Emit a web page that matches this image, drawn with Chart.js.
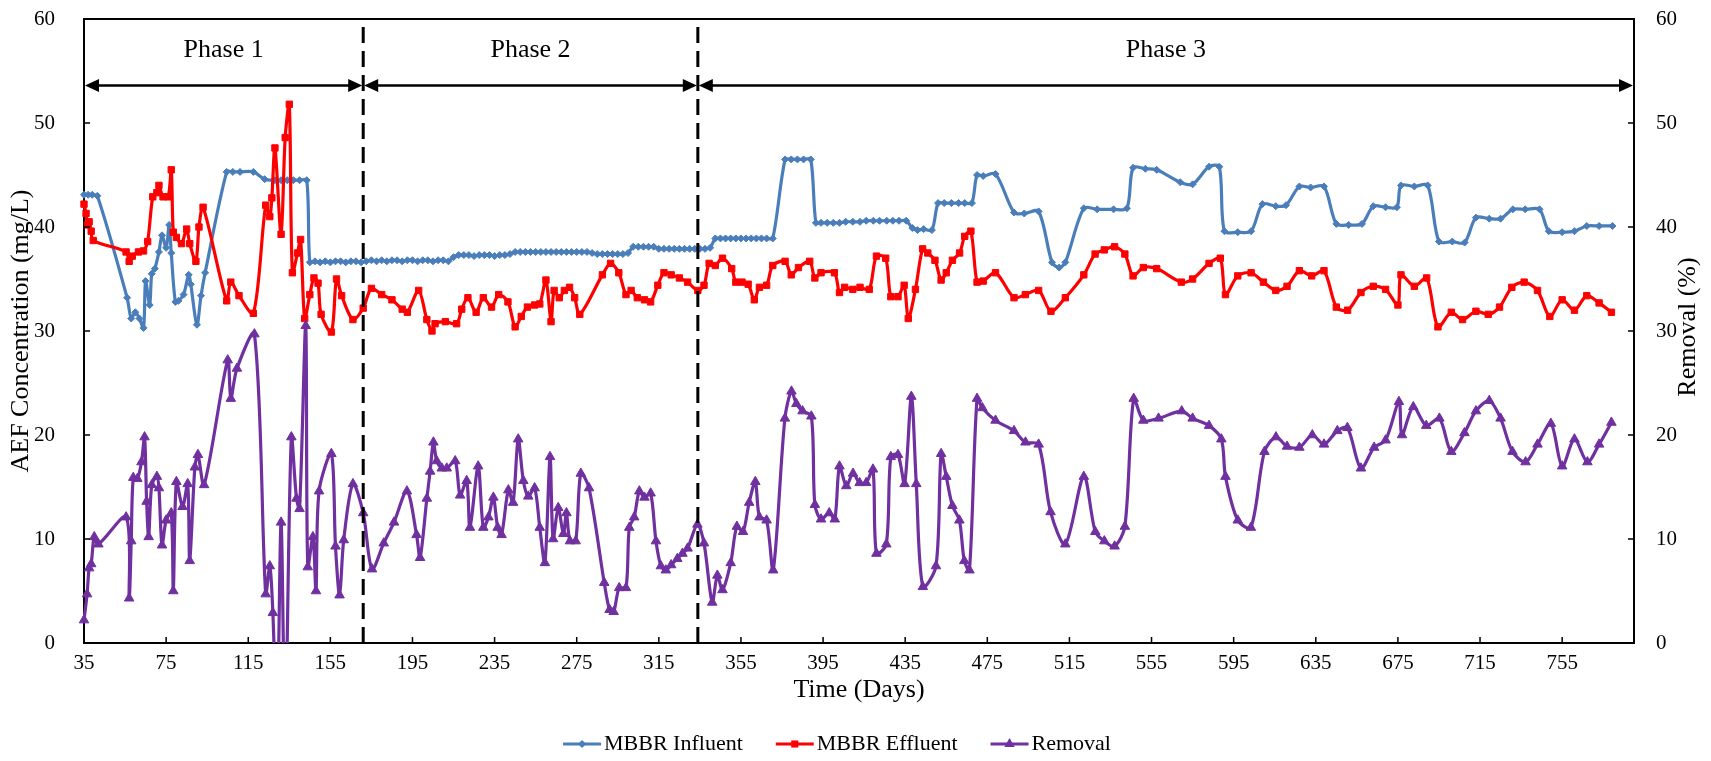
<!DOCTYPE html>
<html lang="en">
<head>
  <meta charset="UTF-8">
  <title>AEF Concentration and Removal - MBBR</title>
  <script src="https://cdn.jsdelivr.net/npm/chart.js"></script>
  <style>
    html, body { margin: 0; padding: 0; background: #fff; }
    #wrap { width: 1711px; height: 761px; }
  </style>
</head>
<body>
  <div id="wrap"><canvas id="aefChart" width="1711" height="761"></canvas></div>

  <script>
    // Axis ticks and phases
    const xTicks = [35, 75, 115, 155, 195, 235, 275, 315, 355, 395, 435, 475, 515, 555, 595, 635, 675, 715, 755];
    const phaseNames = ['Phase 1', 'Phase 2', 'Phase 3'];
    const phaseBounds = [35, 171, 334, 790];
    const seriesNames = ['MBBR Influent', 'MBBR Effluent', 'Removal'];

    // MBBR Influent (mg/L)
    const infDays = [35, 37, 39, 41.5, 56, 58, 60, 62, 64, 65, 67, 68, 69.5, 71.5, 73, 75, 76.5, 77.5, 79.5, 81, 83.5, 86, 87, 90, 92, 94,
      104.5, 107.5, 111, 117.5, 123, 128, 131, 134, 137, 140, 143.5,
      145, 147.5, 150, 152.5, 155, 157.5, 160, 162.5, 165, 167.5, 170, 172.5, 175, 177.5, 180, 182.5, 185, 187.5, 190, 192.5,
      195, 197.5, 200, 202.5, 205, 207.5, 210, 212.5, 215, 217.5, 220, 222.5, 225, 227.5, 230, 232.5, 235, 237.5, 240, 242.5,
      245, 247.5, 250, 252.5, 255, 257.5, 260, 262.5, 265, 267.5, 270, 272.5, 275, 277.5, 280, 282.5, 285, 287.5, 290, 292.5,
      295, 297.5, 300, 302.5, 305, 307.5, 310, 312.5, 315, 317.5, 320, 322.5, 325, 327.5, 330, 332.5, 335, 337.5, 340,
      342.5, 345, 347.5, 350, 352.5, 355, 357.5, 360, 362.5, 365, 367.5, 370.5, 376.5, 379.5, 382.5, 385.5, 389,
      391.5, 394, 397, 400, 403, 406, 409.5, 413, 416, 419.5, 422.5, 426, 429, 432, 435.5, 438.5, 441, 444, 448,
      451, 454, 457.5, 461, 464, 467.5, 470, 473, 479, 488, 493, 500, 506.5, 510, 513, 522, 528.5, 536.5, 543,
      546, 552, 557.5, 569, 575, 583, 588, 590.5, 597, 603.5, 609, 615.5, 620.5, 627, 632.5, 639, 645, 651, 657.5,
      663, 669, 674.5, 676.5, 683, 689.5, 695, 701.5, 707.5, 713, 719.5, 725, 731, 737, 744, 748.5, 755, 761, 767, 773, 779.5];
    const infVals = [43.1, 43.1, 43.1, 43.0, 33.2, 31.2, 31.8, 31.2, 30.3, 34.8, 32.5, 35.5, 36.0, 37.6, 39.2, 38.0, 40.2, 37.5, 32.8, 32.9, 33.5, 35.4, 34.5, 30.6, 33.4, 35.6,
      45.3, 45.3, 45.3, 45.3, 44.6, 44.5, 44.5, 44.5, 44.5, 44.5, 44.5,
      36.6, 36.7, 36.6, 36.7, 36.6, 36.7, 36.7, 36.6, 36.7, 36.7, 36.6, 36.7, 36.8, 36.7, 36.8, 36.7, 36.8, 36.8, 36.7, 36.8,
      36.8, 36.7, 36.8, 36.8, 36.7, 36.8, 36.8, 36.7, 37.1, 37.3, 37.3, 37.3, 37.2, 37.3, 37.3, 37.3, 37.2, 37.3, 37.3, 37.4,
      37.6, 37.6, 37.6, 37.6, 37.6, 37.6, 37.6, 37.6, 37.6, 37.6, 37.6, 37.6, 37.6, 37.6, 37.6, 37.5, 37.4, 37.4, 37.4, 37.4,
      37.4, 37.4, 37.5, 38.1, 38.1, 38.1, 38.1, 38.1, 37.9, 37.9, 37.9, 37.9, 37.9, 37.9, 37.9, 37.9, 37.9, 37.9, 38.0,
      38.9, 38.9, 38.9, 38.9, 38.9, 38.9, 38.9, 38.9, 38.9, 38.9, 38.9, 38.9, 46.5, 46.5, 46.5, 46.5, 46.5,
      40.4, 40.4, 40.4, 40.4, 40.4, 40.5, 40.5, 40.5, 40.6, 40.6, 40.6, 40.6, 40.6, 40.6, 40.6, 39.9, 39.7, 39.8, 39.7,
      42.3, 42.3, 42.3, 42.3, 42.3, 42.3, 45.0, 44.9, 45.1, 41.4, 41.3, 41.5, 36.6, 36.1, 36.6, 41.8, 41.7, 41.7, 41.8,
      45.7, 45.6, 45.5, 44.3, 44.1, 45.8, 45.8, 39.6, 39.5, 39.6, 42.2, 42.0, 42.1, 43.9, 43.8, 43.9, 40.3, 40.2, 40.3,
      42.0, 41.9, 41.9, 44.0, 43.9, 44.0, 38.6, 38.6, 38.5, 40.9, 40.8, 40.8, 41.7, 41.7, 41.7, 39.6, 39.5, 39.6, 40.1, 40.1, 40.1];

    // MBBR Effluent (mg/L)
    const effDays = [35, 36, 36.7, 37.5, 38.5, 39.5, 55.5, 57, 58.5, 61.5, 64, 66, 68.5, 70.5, 71.5, 73.5, 76, 77.5, 78.5, 80, 82.5, 85, 86.5, 89.5, 91, 93,
      104.5, 106.5, 110.5, 117.5, 123.5, 125.5, 126.5, 128, 131, 133, 135, 136.5, 139, 140.5, 142.5, 145, 147, 149, 150.5, 155.5, 158, 160.5, 166,
      171, 175, 180, 185, 190, 192.5, 198, 202, 204.5, 206, 211, 216.5, 219, 222, 226, 229.5, 233.5, 237, 241.5, 245, 248, 251, 254.5, 257,
      260, 262.5, 264, 266.5, 269, 271.5, 274, 276.5, 287.5, 291.5, 295.5, 299, 301.5, 304.5, 308, 311, 314.5, 317.5, 321, 325, 329,
      334, 337, 339.5, 342.5, 346, 350.5, 352.5, 355.5, 358.5, 361.5, 364, 367.5, 370.5, 376.5, 379.5, 383, 388.5, 391, 394, 400.5,
      403, 405.5, 409.5, 413, 417.5, 421, 425.5, 428, 431.5, 434.5, 436.5, 440, 443.5, 446, 449.5, 452.5, 455, 458, 461.5, 464, 467,
      470, 473, 479, 488, 493.5, 500, 506, 513, 522, 527.5, 532, 537, 542, 546, 551, 557.5, 569.5, 575, 583, 588.5, 591, 597, 603.5,
      609.5, 615.5, 621, 627, 633, 639, 645, 650.5, 657, 663, 669, 675, 676.5, 683, 689, 694.5, 701, 706.5, 713, 719, 724.5,
      730.5, 736.5, 743, 749, 755, 761, 767, 773, 779];
    const effVals = [42.2, 41.3, 40.2, 40.5, 39.6, 38.7, 37.6, 36.7, 37.2, 37.6, 37.7, 38.6, 42.9, 43.3, 44.0, 42.9, 42.9, 45.5, 39.5, 39.0, 38.4, 39.8, 38.4, 36.7, 40.0, 41.9,
      32.9, 34.7, 33.4, 31.7, 42.1, 41.0, 42.8, 47.6, 39.3, 48.6, 51.8, 35.6, 37.5, 38.8, 31.2, 33.5, 35.1, 34.6, 31.6, 29.9, 35.0, 33.4, 31.1,
      32.2, 34.1, 33.5, 33.0, 32.1, 31.8, 33.9, 31.1, 30.0, 30.7, 30.9, 30.7, 32.1, 33.2, 31.8, 33.2, 32.3, 33.5, 32.8, 30.4, 31.4, 32.3, 32.5, 32.6,
      34.9, 30.9, 33.9, 33.2, 33.9, 34.2, 33.2, 31.6, 35.4, 36.5, 35.6, 33.5, 33.9, 33.2, 33.0, 32.8, 34.4, 35.6, 35.4, 35.1, 34.7,
      33.9, 34.4, 36.5, 36.3, 37.0, 36.0, 34.7, 34.7, 34.5, 33.0, 34.2, 34.4, 36.3, 36.7, 35.4, 36.1, 36.7, 35.1, 35.6, 35.6,
      33.7, 34.2, 34.0, 34.2, 34.0, 37.2, 37.0, 33.3, 33.3, 34.4, 31.2, 34.0, 37.9, 37.5, 36.8, 34.9, 35.6, 36.8, 37.5, 39.1, 39.6,
      34.7, 34.8, 35.6, 33.2, 33.5, 33.9, 31.9, 33.2, 35.4, 37.4, 37.8, 38.1, 37.4, 35.3, 36.1, 36.0, 34.7, 35.0, 36.5, 37.0, 33.5, 35.3, 35.6,
      34.7, 33.9, 34.3, 35.8, 35.3, 35.8, 32.3, 32.0, 33.7, 34.3, 34.0, 32.5, 35.4, 34.3, 35.1, 30.4, 31.8, 31.1, 31.9, 31.6, 32.3,
      34.2, 34.7, 33.9, 31.4, 33.0, 32.0, 33.4, 32.7, 31.8];

    // Removal (%)
    const remDays = [35, 36.5, 37.5, 38.5, 40, 42, 55.5, 57, 58, 59, 61, 63, 64.5, 65.5, 66.5, 68, 70.5, 71.5, 73, 75, 77.5, 78.5, 80, 83, 85.5, 86.5, 89, 90.5, 93.5,
      105, 106.5, 109.5, 118, 123.5, 125.5, 127, 129, 131, 133, 136, 138.5, 140, 143, 144, 146.5, 148, 149.5, 155.5, 157.5, 159.5, 161.5, 166,
      171, 175.3, 181, 186, 192.3, 197, 198.7, 202, 203.6, 205.2, 206.8, 209.3, 211.7, 215.8, 218.2, 221.4, 223, 227, 229.5, 232, 234.4, 236.5, 238.4,
      241.7, 244, 246.5, 249, 251.4, 254.5, 257, 259.5, 262, 263.5, 266, 268.5, 270, 271.7, 274.5, 277, 281, 288.4, 291, 293, 295.7, 299,
      300.6, 303, 305.5, 308, 311, 313.6, 316, 318.4, 321, 324, 326.5, 329, 333.8, 337, 341, 343.5, 346, 350, 353, 356, 359, 362, 364, 367.5, 370.7,
      376.4, 379.6, 382, 385, 389.3, 391, 394, 398, 400.7, 403, 406.3, 409.6, 412.8, 416, 419.3, 421, 425.8, 428, 431.5, 434.7, 438, 440.4, 443.6,
      450, 452.5, 455, 458, 461.4, 463.8, 466.3, 470, 472.6, 479, 488, 493.6, 500, 505.8, 513, 522, 527.6, 532, 537, 542, 546.3, 551, 558.4,
      569.7, 575, 583, 589, 591, 597, 603.4, 610, 615.6, 621, 627, 633.3, 639, 645.5, 650.4, 657, 663.4, 669, 675.5, 677, 682.5, 688.8,
      695.2, 701, 707.4, 713, 719.5, 725, 730.8, 737.2, 743, 749.5, 755, 761, 767.3, 773, 779];
    const remVals = [2.2, 4.7, 7.2, 7.6, 10.2, 9.5, 12.1, 4.3, 9.8, 15.9, 15.8, 17.4, 19.8, 13.6, 10.2, 15.2, 16.0, 14.9, 9.4, 11.8, 12.5, 5.0, 15.5, 13.1, 15.3, 7.9, 16.9, 18.1, 15.2,
      27.2, 23.5, 26.4, 29.7, 4.7, 7.4, 2.9, -8, 11.6, -8, 19.8, 13.9, 12.9, 30.5, 7.3, 10.2, 5.0, 14.6, 18.2, 9.3, 4.6, 9.9, 15.3,
      12.5, 7.1, 9.6, 11.6, 14.6, 10.4, 8.2, 13.9, 16.5, 19.3, 17.5, 16.8, 16.8, 17.5, 14.2, 15.6, 11.1, 17.0, 11.1, 12.1, 14.0, 11.1, 10.4,
      14.7, 13.5, 19.6, 15.6, 14.1, 14.9, 11.1, 7.7, 17.9, 10.0, 13.0, 10.5, 12.5, 9.8, 9.8, 16.3, 14.9, 5.8, 3.2, 3.0, 5.3, 5.3,
      11.1, 12.1, 14.6, 14.0, 14.4, 9.8, 7.4, 7.0, 7.5, 8.1, 8.6, 9.1, 11.4, 9.6, 3.9, 6.5, 5.1, 7.7, 11.2, 10.7, 13.5, 15.5, 12.1, 11.8, 7.0,
      21.6, 24.2, 23.0, 22.3, 21.8, 13.3, 11.9, 12.5, 11.9, 17.0, 15.1, 16.3, 15.4, 15.4, 16.7, 8.6, 9.5, 17.9, 18.1, 15.3, 23.7, 15.3, 5.4,
      7.4, 18.2, 16.0, 13.2, 11.8, 7.9, 7.0, 23.5, 22.6, 21.4, 20.4, 19.3, 19.1, 12.6, 9.5, 16.0, 10.7, 9.8, 9.3, 11.2, 23.5, 21.4, 21.6,
      22.3, 21.6, 20.9, 19.6, 16.0, 11.8, 11.1, 18.4, 19.8, 18.9, 18.8, 20.0, 19.1, 20.4, 20.7, 16.8, 18.8, 19.5, 23.2, 20.0, 22.7, 20.9,
      21.6, 18.4, 20.2, 22.3, 23.3, 21.6, 18.4, 17.4, 19.1, 21.1, 17.0, 19.6, 17.4, 19.1, 21.2];

    const pts = (days, vals) => days.map((d, i) => ({ x: d, y: vals[i] }));

    const SERIF = "'Liberation Serif', 'Times New Roman', serif";
    const BLUE = '#4A7EBB', RED = '#FF0000', PURPLE = '#7030A0';
    const styles = [
      { color: BLUE, shape: 'rectRot', r: 3.5, w: 3.2 },
      { color: RED, shape: 'rect', r: 4.5, w: 3.2 },
      { color: PURPLE, shape: 'triangle', r: 5.5, w: 3.2 }
    ];

    function marker(ctx, shape, x, y, r) {
      ctx.beginPath();
      if (shape === 'rectRot') {
        ctx.moveTo(x, y - r); ctx.lineTo(x + r, y); ctx.lineTo(x, y + r); ctx.lineTo(x - r, y);
      } else if (shape === 'rect') {
        const s = r * Math.SQRT1_2;
        ctx.rect(x - s, y - s, 2 * s, 2 * s);
      } else {
        ctx.moveTo(x, y - r); ctx.lineTo(x + 0.866 * r, y + 0.5 * r); ctx.lineTo(x - 0.866 * r, y + 0.5 * r);
      }
      ctx.closePath();
      ctx.fill();
    }

    const overlay = {
      id: 'overlay',
      afterDraw(chart) {
        const { ctx, chartArea: a, scales } = chart;
        const x = scales.x, y = scales.y, y2 = scales.y2;
        ctx.save();
        ctx.strokeStyle = '#000';
        ctx.fillStyle = '#000';

        // top frame line
        ctx.lineWidth = 2;
        ctx.beginPath(); ctx.moveTo(a.left, a.top); ctx.lineTo(a.right, a.top); ctx.stroke();

        // inward tick marks
        ctx.lineWidth = 1.5;
        ctx.beginPath();
        x.ticks.forEach(t => { const px = x.getPixelForValue(t.value); ctx.moveTo(px, a.bottom); ctx.lineTo(px, a.bottom - 6); });
        y.ticks.forEach(t => { const py = y.getPixelForValue(t.value); ctx.moveTo(a.left, py); ctx.lineTo(a.left + 6, py); });
        y2.ticks.forEach(t => { const py = y2.getPixelForValue(t.value); ctx.moveTo(a.right, py); ctx.lineTo(a.right - 6, py); });
        ctx.stroke();

        // dashed phase dividers
        ctx.lineWidth = 3;
        ctx.setLineDash([16, 8]);
        phaseBounds.slice(1, -1).forEach(d => {
          const px = x.getPixelForValue(d);
          ctx.beginPath(); ctx.moveTo(px, y.getPixelForValue(0)); ctx.lineTo(px, y.getPixelForValue(60)); ctx.stroke();
        });
        ctx.setLineDash([]);

        // phase arrows and labels
        const ay = y.getPixelForValue(53.6);
        const ty = y.getPixelForValue(57.0);
        const L = 14, H = 6.5;
        ctx.font = '26px ' + SERIF;
        ctx.textAlign = 'center';
        ctx.textBaseline = 'middle';
        for (let i = 0; i < phaseNames.length; i++) {
          const x1 = x.getPixelForValue(phaseBounds[i]) + 1;
          const x2 = x.getPixelForValue(phaseBounds[i + 1]) - 1;
          ctx.lineWidth = 2.5;
          ctx.beginPath(); ctx.moveTo(x1 + L - 2, ay); ctx.lineTo(x2 - L + 2, ay); ctx.stroke();
          ctx.beginPath(); ctx.moveTo(x1, ay); ctx.lineTo(x1 + L, ay - H); ctx.lineTo(x1 + L, ay + H); ctx.closePath(); ctx.fill();
          ctx.beginPath(); ctx.moveTo(x2, ay); ctx.lineTo(x2 - L, ay - H); ctx.lineTo(x2 - L, ay + H); ctx.closePath(); ctx.fill();
          ctx.fillText(phaseNames[i], (x1 + x2) / 2, ty);
        }

        // secondary axis title, reading bottom to top
        ctx.save();
        ctx.translate(1688, (a.top + a.bottom) / 2 - 4);
        ctx.rotate(-Math.PI / 2);
        ctx.fillText('Removal (%)', 0, 0);
        ctx.restore();

        // legend
        ctx.font = '22px ' + SERIF;
        ctx.textAlign = 'left';
        const LINE = 38, GAP = 3, SEP = 33, LY = 744;
        const widths = seriesNames.map(n => ctx.measureText(n).width);
        const total = widths.reduce((s, w) => s + LINE + GAP + w, 0) + SEP * (seriesNames.length - 1);
        let lx = 837 - total / 2;
        seriesNames.forEach((name, i) => {
          const st = styles[i];
          ctx.strokeStyle = st.color;
          ctx.fillStyle = st.color;
          ctx.lineWidth = st.w;
          ctx.beginPath(); ctx.moveTo(lx, LY); ctx.lineTo(lx + LINE, LY); ctx.stroke();
          marker(ctx, st.shape, lx + LINE / 2, LY, st.r + 0.5);
          ctx.fillStyle = '#000';
          ctx.fillText(name, lx + LINE + GAP, LY);
          lx += LINE + GAP + widths[i] + SEP;
        });
        ctx.restore();
      }
    };

    const tickFont = { family: SERIF, size: 21 };
    const clipBox = { left: 10, right: 10, top: 10, bottom: 10 };
    const fixV = w => s => { s.width = w; s.paddingTop = 0; s.paddingBottom = 0; };

    new Chart(document.getElementById('aefChart'), {
      type: 'line',
      data: {
        datasets: [
          { label: seriesNames[0], data: pts(infDays, infVals), yAxisID: 'y', order: 2,
            borderColor: BLUE, backgroundColor: BLUE, pointBackgroundColor: BLUE, pointBorderColor: BLUE,
            borderWidth: styles[0].w, pointStyle: 'rectRot', pointRadius: styles[0].r, pointBorderWidth: 1, tension: 0.3, clip: clipBox },
          { label: seriesNames[1], data: pts(effDays, effVals), yAxisID: 'y', order: 1,
            borderColor: RED, backgroundColor: RED, pointBackgroundColor: RED, pointBorderColor: RED,
            borderWidth: styles[1].w, pointStyle: 'rect', pointRadius: styles[1].r, pointBorderWidth: 1, tension: 0.3, clip: clipBox },
          { label: seriesNames[2], data: pts(remDays, remVals), yAxisID: 'y2', order: 0,
            borderColor: PURPLE, backgroundColor: PURPLE, pointBackgroundColor: PURPLE, pointBorderColor: PURPLE,
            borderWidth: styles[2].w, pointStyle: 'triangle', pointRadius: styles[2].r, pointBorderWidth: 1, tension: 0.3,
            clip: { left: 10, right: 10, top: 10, bottom: 0 } }
        ]
      },
      options: {
        responsive: false,
        animation: false,
        devicePixelRatio: 1,
        layout: { padding: { top: 19, bottom: 0, left: 0, right: 0 } },
        plugins: { legend: { display: false }, tooltip: { enabled: false } },
        scales: {
          x: {
            type: 'linear', min: 35, max: 790,
            grid: { display: false },
            border: { color: '#000', width: 2 },
            ticks: { font: tickFont, color: '#000', padding: 0, autoSkip: false, maxRotation: 0 },
            afterBuildTicks: s => { s.ticks = xTicks.map(v => ({ value: v })); },
            afterFit: s => { s.height = 118; s.paddingLeft = 0; s.paddingRight = 0; },
            title: { display: true, text: 'Time (Days)', color: '#000', font: { family: SERIF, size: 26 }, padding: { top: 0, bottom: 55 } }
          },
          y: {
            position: 'left', min: 0, max: 60,
            grid: { display: false },
            border: { color: '#000', width: 2 },
            ticks: { stepSize: 10, font: tickFont, color: '#000', padding: 21 },
            afterFit: fixV(84),
            title: { display: true, text: 'AEF Concentration (mg/L)', color: '#000', font: { family: SERIF, size: 26 }, padding: { top: 6, bottom: 0 } }
          },
          y2: {
            position: 'right', min: 0, max: 60,
            grid: { display: false },
            border: { color: '#000', width: 2 },
            ticks: { stepSize: 10, font: tickFont, color: '#000', padding: 14 },
            afterFit: fixV(77)
          }
        }
      },
      plugins: [overlay]
    });
  </script>
</body>
</html>
